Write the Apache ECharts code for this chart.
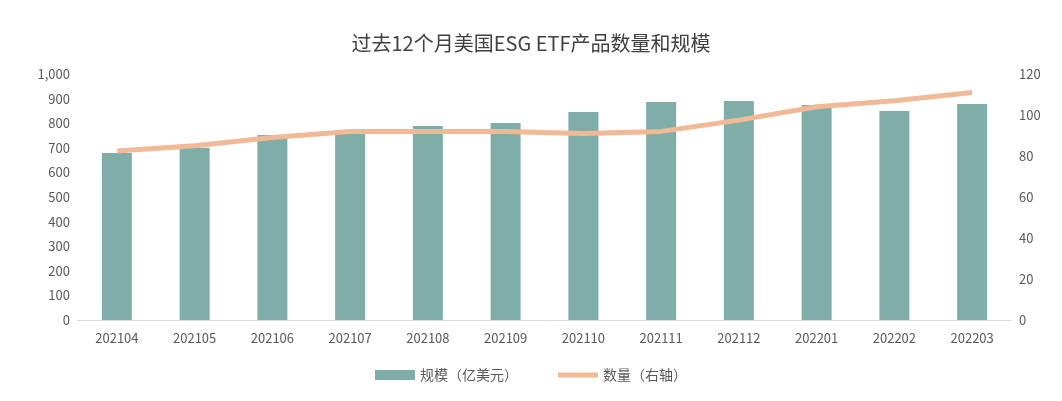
<!DOCTYPE html>
<html>
<head>
<meta charset="UTF-8"/>
<script src="https://cdn.jsdelivr.net/npm/echarts@6/dist/echarts.min.js"></script>
<style>body{margin:0;background:#fff}#main{width:1062px;height:401px}</style>
</head>
<body>
<div id="main"></div>
<script>
var months = ['202104','202105','202106','202107','202108','202109','202110','202111','202112','202201','202202','202203'];
var scale = [679, 700, 752, 772, 789, 801, 846, 886, 890, 874, 850, 878];
var count = [82.4, 85, 89, 92, 92, 92, 91, 92, 97.5, 104, 107, 111];

var font = '"Noto Sans CJK SC", sans-serif';
var chart = echarts.init(document.getElementById('main'));
chart.setOption({
    textStyle: {fontFamily: font},
    title: {text: '过去12个月美国ESG ETF产品数量和规模', left: 'center', top: 28,
        textStyle: {fontSize: 20, fontWeight: 'normal', color: '#404040', fontFamily: font}},
    legend: {bottom: 14, itemGap: 40, itemWidth: 40, itemHeight: 10, textStyle: {fontSize: 14, color: '#595959'},
        data: [{name: '规模（亿美元）', icon: 'rect'}, {name: '数量（右轴）', icon: 'path://M0,0h40v5h-40z'}]},
    grid: {left: 78, right: 51, top: 74, bottom: 81},
    xAxis: {type: 'category', data: months,
        axisTick: {show: false}, axisLine: {lineStyle: {color: '#d9d9d9'}},
        axisLabel: {color: '#595959', fontSize: 13, margin: 12}},
    yAxis: [
        {type: 'value', min: 0, max: 1000, interval: 100, splitLine: {show: false},
            axisLabel: {color: '#595959', fontSize: 13, formatter: function (v) { return v.toLocaleString('en-US'); }}},
        {type: 'value', min: 0, max: 120, interval: 20, splitLine: {show: false},
            axisLabel: {color: '#595959', fontSize: 13}}
    ],
    series: [
        {name: '规模（亿美元）', type: 'bar', data: scale, barWidth: 30,
            itemStyle: {color: '#7fada8'}},
        {name: '数量（右轴）', type: 'line', yAxisIndex: 1, data: count, symbol: 'none',
            lineStyle: {width: 5, color: '#f1b996'}, itemStyle: {color: '#f1b996'}}
    ]
});
</script>
</body>
</html>
